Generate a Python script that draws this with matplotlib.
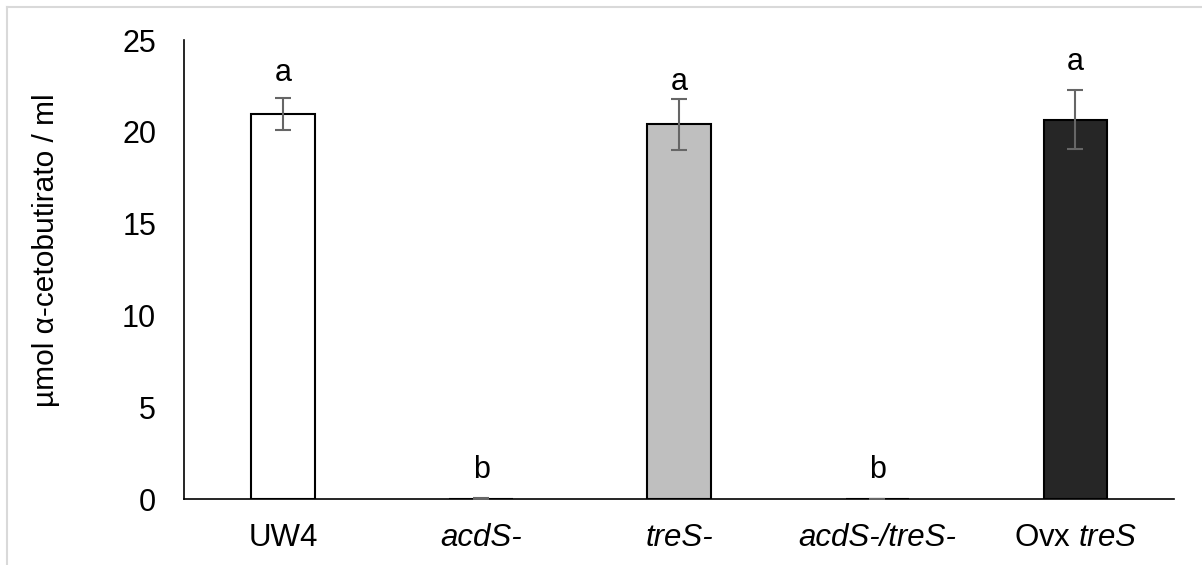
import matplotlib
matplotlib.use("Agg")
import matplotlib.pyplot as plt
from matplotlib.lines import Line2D
import numpy as np

plt.rcParams.update({
    "font.family": "Liberation Sans",
    "mathtext.fontset": "custom",
    "mathtext.rm": "Liberation Sans",
    "mathtext.it": "Liberation Sans:italic",
    "font.size": 22,
})

# data
strains = ["UW4", "acdS-", "treS-", "acdS-/treS-", "Ovx $\\mathit{treS}$ "]
italic = [False, True, True, True, False]
values = [20.95, 0.02, 20.4, 0.01, 20.65]
errors = [0.87, 0.02, 1.4, 0.01, 1.6]
letters = ["a", "b", "a", "b", "a"]
letter_y = [23.2, 1.6, 22.7, 1.6, 23.8]
fills = ["#FFFFFF", "#FFFFFF", "#BFBFBF", "#FFFFFF", "#262626"]

fig = plt.figure(figsize=(12.02, 5.65), dpi=100)
ax = fig.add_axes([0.153, 0.1168, 0.824, 0.8124])

x = np.arange(len(strains))
ax.bar(x, values, width=0.32, color=fills, edgecolor="black", linewidth=1.5,
       zorder=2)
ax.errorbar(x, values, yerr=errors, fmt="none", ecolor="#666666",
            elinewidth=1.5, capsize=6, capthick=1.5, zorder=3)

for xi, lab, ly in zip(x, letters, letter_y):
    ax.text(xi, ly, lab, ha="center", va="center", fontsize=22)

ax.set_xlim(-0.5, 4.5)
ax.set_ylim(0, 25)
ax.set_yticks([0, 5, 10, 15, 20, 25])
ax.set_xticks(x)
ax.set_xticklabels(strains, fontsize=22.5)
for lbl, it in zip(ax.get_xticklabels(), italic):
    if it:
        lbl.set_fontstyle("italic")
ax.tick_params(axis="both", length=0)
ax.tick_params(axis="y", pad=20)
ax.tick_params(axis="x", pad=17)

for s in ["top", "right"]:
    ax.spines[s].set_visible(False)
ax.spines["left"].set_linewidth(1.2)
ax.spines["bottom"].set_linewidth(1.2)

ax.set_ylabel("µmol α-cetobutirato / ml", fontsize=21.5)
ax.yaxis.set_label_coords(-0.125, 0.5425)

# light chart frame like the spreadsheet export
fig.add_artist(Line2D([7 / 1202, 1], [1 - 7 / 565, 1 - 7 / 565],
                      transform=fig.transFigure, color="#D9D9D9", lw=1.5))
fig.add_artist(Line2D([7 / 1202, 7 / 1202], [0, 1 - 7 / 565],
                      transform=fig.transFigure, color="#D9D9D9", lw=1.5))

fig.savefig("out.png", dpi=100)
